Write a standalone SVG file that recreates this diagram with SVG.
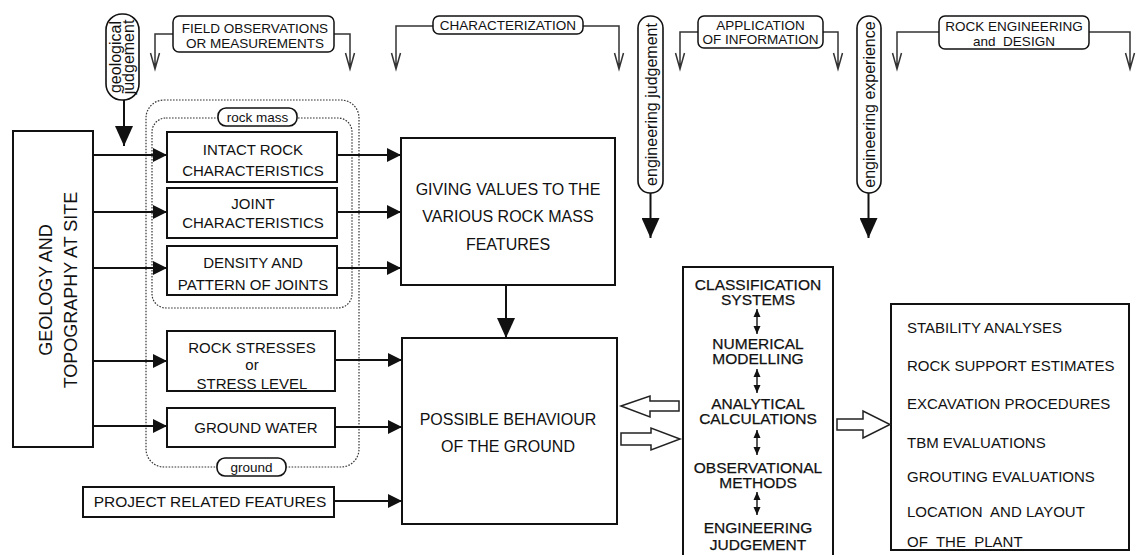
<svg xmlns="http://www.w3.org/2000/svg" width="1136" height="555" viewBox="0 0 1136 555">
  <defs>
    <style>
      text { font-family: "Liberation Sans", Arial, Helvetica, sans-serif; fill: #111; }
      .box { fill: #fff; stroke: #111; stroke-width: 2; }
      .tag { fill: #fff; stroke: #111; stroke-width: 1.5; }
      .pill { fill: #fff; stroke: #111; stroke-width: 1.6; }
      .dot { fill: none; stroke: #333; stroke-width: 1.2; stroke-dasharray: 1.6 1.4; }
      .ln { fill: none; stroke: #111; stroke-width: 2; }
      .thin { fill: none; stroke: #111; stroke-width: 1.4; }
      .br { fill: none; stroke: #333; stroke-width: 1.5; }
      .hollow { fill: #fff; stroke: #222; stroke-width: 1.5; stroke-linejoin: miter; }
      .t13 { font-size: 13.5px; }
      .t15 { font-size: 15px; }
      .t16 { font-size: 16px; }
      .mid { font-size: 15.5px; stroke: #111; stroke-width: 0.25; }
      .pre { white-space: pre; }
      .c { text-anchor: middle; }
    </style>
    <marker id="arrow" markerUnits="userSpaceOnUse" markerWidth="14" markerHeight="14" refX="14" refY="7" orient="auto">
      <path d="M0,0 L14,7 L0,14 z" fill="#111"/>
    </marker>
    <marker id="arrowBig" markerUnits="userSpaceOnUse" markerWidth="20" markerHeight="18" refX="20" refY="9" orient="auto">
      <path d="M0,0 L20,9 L0,18 z" fill="#111"/>
    </marker>
    <marker id="arrowSmall" markerUnits="userSpaceOnUse" markerWidth="8" markerHeight="8" refX="8" refY="4" orient="auto-start-reverse">
      <path d="M0,0.5 L8,4 L0,7.5 z" fill="#111"/>
    </marker>
  </defs>

  <rect width="1136" height="555" fill="#fff"/>

  <!-- top row: tagged phases with open-headed brackets -->
  <g id="phase-brackets">
    <path class="br" d="M173,34 H155 V69 M150.5,53 L155,69 L159.5,53"/>
    <path class="br" d="M334,34 H350 V69 M345.5,53 L350,69 L354.5,53"/>
    <path class="br" d="M433,26 H396 V69 M391.5,53 L396,69 L400.5,53"/>
    <path class="br" d="M583,26 H619 V69 M614.5,53 L619,69 L623.5,53"/>
    <path class="br" d="M698,32 H680 V69 M675.5,53 L680,69 L684.5,53"/>
    <path class="br" d="M823,32 H838 V69 M833.5,53 L838,69 L842.5,53"/>
    <path class="br" d="M939,32 H897 V69 M892.5,53 L897,69 L901.5,53"/>
    <path class="br" d="M1089,32 H1130 V69 M1125.5,53 L1130,69 L1134.5,53"/>
  </g>

  <g id="field-observations">
    <rect class="tag" x="173" y="16" width="161" height="36" rx="6"/>
    <text class="t13 c" x="255" y="32.5">FIELD OBSERVATIONS</text>
    <text class="t13 c" x="255" y="48">OR MEASUREMENTS</text>
  </g>
  <g id="characterization">
    <rect class="tag" x="433" y="16" width="150" height="18" rx="6"/>
    <text class="t13 c" x="508" y="30">CHARACTERIZATION</text>
  </g>
  <g id="application">
    <rect class="tag" x="698" y="16" width="125" height="32" rx="6"/>
    <text class="t13 c" x="760.5" y="29.5">APPLICATION</text>
    <text class="t13 c" x="760.5" y="44">OF INFORMATION</text>
  </g>
  <g id="rock-engineering">
    <rect class="tag" x="939" y="16" width="150" height="33" rx="6"/>
    <text class="t13 c" x="1014" y="31">ROCK ENGINEERING</text>
    <text class="t13 c pre" x="1014" y="46">and  DESIGN</text>
  </g>

  <!-- vertical judgement pills -->
  <g id="geological-judgement">
    <rect class="pill" x="106" y="14" width="33" height="86" rx="16"/>
    <text class="t16 c" transform="translate(120.5,57) rotate(-90)">geological</text>
    <text class="t16 c" transform="translate(134,57) rotate(-90)">judgement</text>
  </g>
  <g id="engineering-judgement">
    <rect class="pill" x="638" y="16" width="25" height="177" rx="12"/>
    <text class="t16 c" transform="translate(656.5,104.5) rotate(-90)">engineering judgement</text>
  </g>
  <g id="engineering-experience">
    <rect class="pill" x="857" y="16" width="24" height="177" rx="12"/>
    <text class="t16 c" transform="translate(874.5,104.5) rotate(-90)">engineering experience</text>
  </g>

  <!-- dotted groupings -->
  <g id="ground-group">
    <rect class="dot" x="146" y="100" width="213" height="367" rx="18"/>
    <rect class="pill" x="217" y="458" width="69" height="18" rx="8"/>
    <text class="t13 c" x="251.5" y="471.5">ground</text>
  </g>
  <g id="rock-mass-group">
    <rect class="dot" x="152" y="118" width="200" height="190" rx="14"/>
    <rect class="pill" x="218" y="108" width="79" height="18" rx="8"/>
    <text class="t13 c" x="257.5" y="121.5">rock mass</text>
  </g>

  <!-- site box -->
  <g id="geology-site">
    <rect class="box" x="13" y="131" width="80" height="316"/>
    <text class="c" font-size="18" transform="translate(52,290) rotate(-90)">GEOLOGY AND</text>
    <text class="c" font-size="18" transform="translate(77,290) rotate(-90)">TOPOGRAPHY AT SITE</text>
  </g>

  <!-- rock mass features -->
  <g id="intact-rock">
    <rect class="box" x="167" y="132" width="170" height="50"/>
    <text class="t15 c" x="253" y="155">INTACT ROCK</text>
    <text class="t15 c" x="253" y="176">CHARACTERISTICS</text>
  </g>
  <g id="joint-characteristics">
    <rect class="box" x="167" y="188" width="170" height="50"/>
    <text class="t15 c" x="253" y="209">JOINT</text>
    <text class="t15 c" x="253" y="228">CHARACTERISTICS</text>
  </g>
  <g id="density-pattern">
    <rect class="box" x="167" y="246" width="170" height="49"/>
    <text class="t15 c" x="253" y="268">DENSITY AND</text>
    <text class="t15 c" x="253" y="290">PATTERN OF JOINTS</text>
  </g>
  <g id="rock-stresses">
    <rect class="box" x="167" y="331" width="168" height="60"/>
    <text class="t15 c" x="252" y="353">ROCK STRESSES</text>
    <text class="t15 c" x="252" y="370">or</text>
    <text class="t15 c" x="252" y="389">STRESS LEVEL</text>
  </g>
  <g id="ground-water">
    <rect class="box" x="167" y="408" width="168" height="39"/>
    <text class="t15 c" x="256" y="433">GROUND WATER</text>
  </g>
  <g id="project-features">
    <rect class="box" x="83" y="487" width="251" height="30"/>
    <text class="c" font-size="15.5" x="210" y="507">PROJECT RELATED FEATURES</text>
  </g>

  <g id="giving-values">
    <rect class="box" x="401" y="138" width="214" height="147"/>
    <text class="t16 c" x="508" y="195">GIVING VALUES TO THE</text>
    <text class="t16 c" x="508" y="222">VARIOUS ROCK MASS</text>
    <text class="t16 c" x="508" y="250">FEATURES</text>
  </g>
  <g id="possible-behaviour">
    <rect class="box" x="402" y="338" width="215" height="186"/>
    <text class="t16 c" x="508" y="425">POSSIBLE BEHAVIOUR</text>
    <text class="t16 c" x="508" y="452">OF THE GROUND</text>
  </g>

  <g id="methods">
    <rect class="box" x="683" y="267" width="150" height="300"/>
    <text class="mid c" x="758" y="289.5">CLASSIFICATION</text>
    <text class="mid c" x="758" y="304.5">SYSTEMS</text>
    <text class="mid c" x="758" y="349">NUMERICAL</text>
    <text class="mid c" x="758" y="364">MODELLING</text>
    <text class="mid c" x="758" y="409">ANALYTICAL</text>
    <text class="mid c" x="758" y="424">CALCULATIONS</text>
    <text class="mid c" x="758" y="473">OBSERVATIONAL</text>
    <text class="mid c" x="758" y="488">METHODS</text>
    <text class="mid c" x="758" y="533">ENGINEERING</text>
    <text class="mid c" x="758" y="550">JUDGEMENT</text>
  </g>

  <g id="applications">
    <rect class="box" x="891" y="304" width="238" height="246"/>
    <text class="t15" x="907" y="333">STABILITY ANALYSES</text>
    <text class="t15" x="907" y="371">ROCK SUPPORT ESTIMATES</text>
    <text class="t15" x="907" y="409">EXCAVATION PROCEDURES</text>
    <text class="t15" x="907" y="448">TBM EVALUATIONS</text>
    <text class="t15" x="907" y="482">GROUTING EVALUATIONS</text>
    <text class="t15 pre" x="907" y="517">LOCATION  AND LAYOUT</text>
    <text class="t15 pre" x="907" y="547">OF  THE  PLANT</text>
  </g>

  <!-- connectors, drawn last so they sit on top of the boxes -->
  <g id="connectors">
    <line class="ln" x1="124" y1="100" x2="124" y2="146" marker-end="url(#arrowBig)"/>
    <line class="ln" x1="650.5" y1="193" x2="650.5" y2="238" marker-end="url(#arrowBig)"/>
    <line class="ln" x1="868.5" y1="193" x2="868.5" y2="238" marker-end="url(#arrowBig)"/>

    <line class="ln" x1="93" y1="155" x2="167" y2="155" marker-end="url(#arrow)"/>
    <line class="ln" x1="93" y1="212" x2="167" y2="212" marker-end="url(#arrow)"/>
    <line class="ln" x1="93" y1="268" x2="167" y2="268" marker-end="url(#arrow)"/>
    <line class="ln" x1="93" y1="361" x2="167" y2="361" marker-end="url(#arrow)"/>
    <line class="ln" x1="93" y1="426" x2="167" y2="426" marker-end="url(#arrow)"/>

    <line class="ln" x1="337" y1="155" x2="401" y2="155" marker-end="url(#arrow)"/>
    <line class="ln" x1="337" y1="212" x2="401" y2="212" marker-end="url(#arrow)"/>
    <line class="ln" x1="337" y1="268" x2="401" y2="268" marker-end="url(#arrow)"/>
    <line class="ln" x1="335" y1="360" x2="402" y2="360" marker-end="url(#arrow)"/>
    <line class="ln" x1="335" y1="427" x2="402" y2="427" marker-end="url(#arrow)"/>
    <line class="ln" x1="334" y1="501" x2="402" y2="501" marker-end="url(#arrow)"/>

    <line class="ln" x1="506" y1="285" x2="506" y2="338" marker-end="url(#arrowBig)"/>

    <line class="thin" x1="757" y1="309" x2="757" y2="334" marker-start="url(#arrowSmall)" marker-end="url(#arrowSmall)"/>
    <line class="thin" x1="757" y1="369" x2="757" y2="393" marker-start="url(#arrowSmall)" marker-end="url(#arrowSmall)"/>
    <line class="thin" x1="757" y1="430" x2="757" y2="455" marker-start="url(#arrowSmall)" marker-end="url(#arrowSmall)"/>
    <line class="thin" x1="757" y1="492" x2="757" y2="515" marker-start="url(#arrowSmall)" marker-end="url(#arrowSmall)"/>

    <polygon class="hollow" points="621,406 650,396 650,401 679,401 679,411 650,411 650,417"/>
    <polygon class="hollow" points="621,433 651,433 651,428 680,439 651,450 651,445 621,445"/>
    <polygon class="hollow" points="837,419 863,419 863,411 890,424.5 863,438 863,430 837,430"/>
  </g>
</svg>
